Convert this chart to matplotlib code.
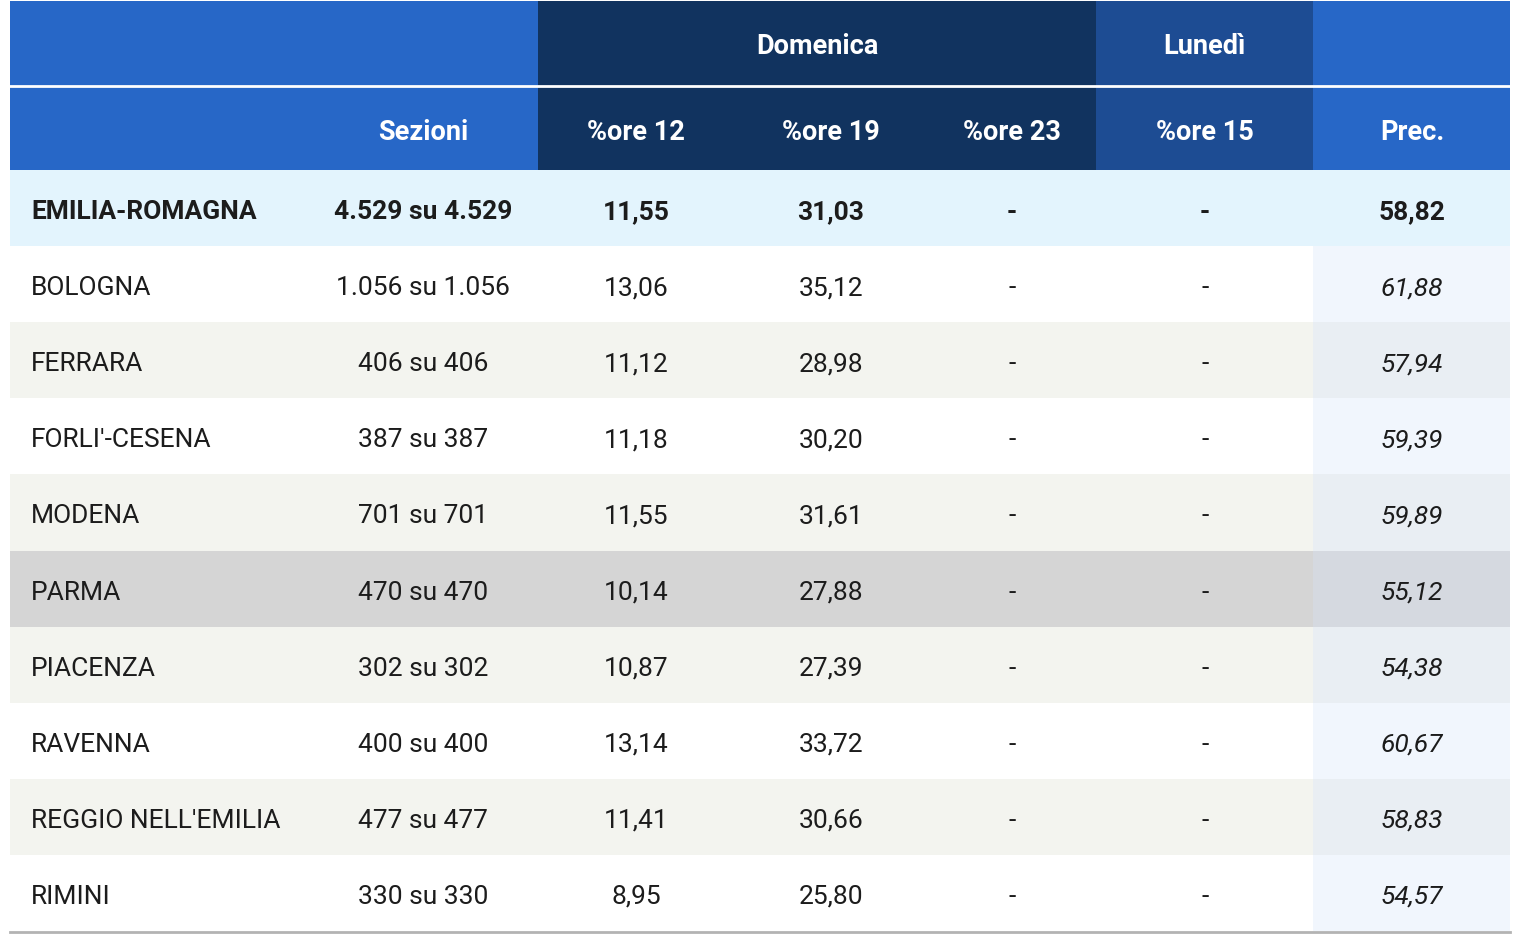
import matplotlib.pyplot as plt
from matplotlib.patches import Rectangle

# table data
province = ["EMILIA-ROMAGNA", "BOLOGNA", "FERRARA", "FORLI'-CESENA", "MODENA", "PARMA",
            "PIACENZA", "RAVENNA", "REGGIO NELL'EMILIA", "RIMINI"]
sezioni = ["4.529 su 4.529", "1.056 su 1.056", "406 su 406", "387 su 387", "701 su 701",
           "470 su 470", "302 su 302", "400 su 400", "477 su 477", "330 su 330"]
ore12 = ["11,55", "13,06", "11,12", "11,18", "11,55", "10,14", "10,87", "13,14", "11,41", "8,95"]
ore19 = ["31,03", "35,12", "28,98", "30,20", "31,61", "27,88", "27,39", "33,72", "30,66", "25,80"]
ore23 = ["-"] * 10
ore15 = ["-"] * 10
prec = ["58,82", "61,88", "57,94", "59,39", "59,89", "55,12", "54,38", "60,67", "58,83", "54,57"]

col_headers = ["", "Sezioni", "%ore 12", "%ore 19", "%ore 23", "%ore 15", "Prec."]
group_headers = ["Domenica", "Lunedì"]

plt.rcParams['font.family'] = ['Roboto', 'DejaVu Sans']

W, H = 1514, 948
fig = plt.figure(figsize=(W / 100, H / 100), dpi=100)
ax = fig.add_axes([0, 0, 1, 1])
ax.set_xlim(0, W)
ax.set_ylim(H, 0)
ax.axis('off')

BLUE = '#2767c7'
DARK = '#11335f'
MID = '#1d4c93'
TXT = '#1c1c1c'
left, right = 10, 1510
edges = [10, 538, 1096, 1313, 1510]
sect_cols = [BLUE, DARK, MID, BLUE]
col_x = [31, 423, 636, 831, 1012, 1205, 1412]
HFS, DFS = 19.5, 19

# header
for i, c in enumerate(sect_cols):
    ax.add_patch(Rectangle((edges[i], 1), edges[i + 1] - edges[i], 169, color=c, lw=0))
ax.plot([left, right], [86, 86], color='white', lw=2)
ax.text((edges[1] + edges[2]) / 2, 46, group_headers[0], color='white', fontsize=HFS,
        fontweight='bold', ha='center', va='center')
ax.text((edges[2] + edges[3]) / 2, 46, group_headers[1], color='white', fontsize=HFS,
        fontweight='bold', ha='center', va='center')
for x, h in zip(col_x[1:], col_headers[1:]):
    ax.text(x, 132, h, color='white', fontsize=HFS, fontweight='bold', ha='center', va='center')

# rows
top, rh = 170, 76.1
for i in range(len(province)):
    y0 = top + i * rh
    if i == 0:
        bg, pbg = '#e3f4fd', '#e3f4fd'
    elif province[i] == "PARMA":
        bg, pbg = '#d5d5d5', '#d5d9e0'
    elif i % 2 == 1:
        bg, pbg = '#ffffff', '#f1f6fd'
    else:
        bg, pbg = '#f3f4ef', '#e9eef3'
    ax.add_patch(Rectangle((left, y0), edges[3] - left, rh, color=bg, lw=0))
    ax.add_patch(Rectangle((edges[3], y0), right - edges[3], rh, color=pbg, lw=0))
    yc = y0 + rh / 2 + 4
    fw = 'bold' if i == 0 else 'normal'
    vals = [sezioni[i], ore12[i], ore19[i], ore23[i], ore15[i]]
    ax.text(col_x[0], yc, province[i], color=TXT, fontsize=DFS, fontweight=fw,
            ha='left', va='center')
    for x, v in zip(col_x[1:6], vals):
        ax.text(x, yc, v, color=TXT, fontsize=DFS, fontweight=fw, ha='center', va='center')
    ax.text(col_x[6], yc, prec[i], color=TXT, fontsize=DFS, fontweight=fw,
            fontstyle='normal' if i == 0 else 'italic', ha='center', va='center')

ax.plot([left, right], [top + len(province) * rh + 1, top + len(province) * rh + 1],
        color='#b3b3b3', lw=2)

fig.savefig('out.png', dpi=100)
